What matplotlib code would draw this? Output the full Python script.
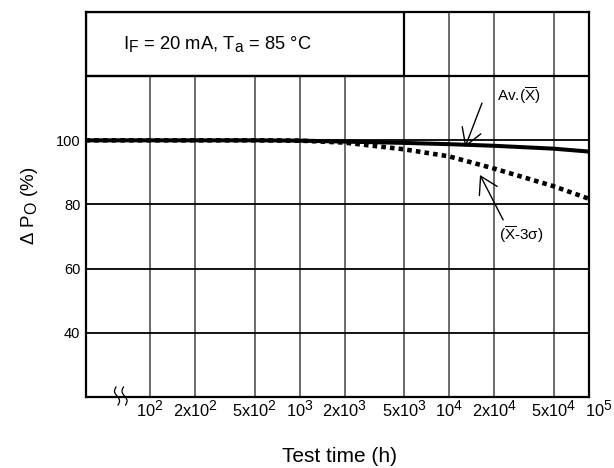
import numpy as np
import matplotlib
matplotlib.use("Agg")
import matplotlib.pyplot as plt
import matplotlib.patches as patches
import matplotlib._mathtext as mathtext_internal

plt.rcParams['font.family'] = ['Liberation Sans', 'DejaVu Sans']
plt.rcParams['mathtext.fontset'] = 'custom'
plt.rcParams['mathtext.rm'] = 'Liberation Sans'
plt.rcParams['mathtext.it'] = 'Liberation Sans:italic'
plt.rcParams['mathtext.bf'] = 'Liberation Sans:bold'
plt.rcParams['mathtext.default'] = 'regular'
# exponents and subscripts close to full size
mathtext_internal.SHRINK_FACTOR = 0.85

# test time (h) and relative optical power (%)
hours = [37, 100, 200, 500, 1000, 2000, 5000, 10000, 20000, 50000, 86000]
avg_po = [100, 100, 100, 100, 99.9, 99.6, 99.2, 98.8, 98.3, 97.4, 96.5]
low_po = [100, 100, 100, 100, 99.9, 99.3, 97.2, 95.0, 91.2, 85.7, 81.8]

x_ticks = [100, 200, 500, 1000, 2000, 5000, 10000, 20000, 50000, 100000]
x_labels = ['10$^{2}$', '2x10$^{2}$', '5x10$^{2}$', '10$^{3}$', '2x10$^{3}$',
            '5x10$^{3}$', '10$^{4}$', '2x10$^{4}$', '5x10$^{4}$', '10$^{5}$']
y_ticks = [40, 60, 80, 100]
x_min, x_max = 37.3, 86300
y_min, y_max = 20, 140

fig = plt.figure(figsize=(6.14, 4.68), dpi=100)
ax = fig.add_axes([0.1401, 0.1517, 0.8192, 0.8227])
ax.set_xscale('log')
ax.set_xlim(x_min, x_max)
ax.set_ylim(y_min, y_max)

# grid
for xv in x_ticks[:-1]:
    ax.axvline(xv, color='#444444', lw=1.1, zorder=1)
for yv in y_ticks:
    ax.axhline(yv, color='black', lw=1.3, zorder=1)
ax.axhline(120, color='black', lw=1.6, zorder=3)

# condition box in the upper-left corner
box = patches.Rectangle((x_min, 120), 5000 - x_min, 20, facecolor='white',
                        edgecolor='black', lw=1.6, zorder=2)
ax.add_patch(box)
ax.text(66, 130, 'I$_F$ = 20 mA, T$_a$ = 85 °C', fontsize=13.2,
        ha='left', va='center', zorder=4)

# curves
ax.plot(hours, avg_po, color='black', lw=2.9, zorder=5, solid_capstyle='butt')
ax.plot(hours, low_po, color='black', lw=3.3, linestyle=(0, (1.0, 0.9)), zorder=5)

# callouts
arrow = dict(arrowstyle='->,head_length=0.6,head_width=0.36', color='black',
             lw=1.0, mutation_scale=20, shrinkA=0, shrinkB=0)
ax.annotate('', xy=(12800, 97.9), xytext=(16600, 111.6), arrowprops=arrow, zorder=6)
ax.text(29400, 113.8, r'Av.($\overline{X}$)', fontsize=11, ha='center', va='center')
ax.annotate('', xy=(16100, 89.2), xytext=(23000, 75.2), arrowprops=arrow, zorder=6)
ax.text(30500, 70.5, r'($\overline{X}$-3σ)', fontsize=11, ha='center', va='center')

# axes frame and ticks
for sp in ax.spines.values():
    sp.set_linewidth(1.6)
    sp.set_zorder(7)
ax.set_xticks(x_ticks[:-1])
ax.xaxis.set_minor_locator(matplotlib.ticker.NullLocator())
ax.set_yticks(y_ticks)
ax.set_yticklabels([str(v) for v in y_ticks], fontsize=10.5)
ax.tick_params(axis='both', length=0)
ax.tick_params(axis='x', labelbottom=False)
ax.tick_params(axis='y', pad=4)

# time labels, the last decade sits past the frame
for t, lab in zip(x_ticks, x_labels):
    ax.annotate(lab, xy=(t, 0), xycoords=('data', 'axes fraction'),
                xytext=(0, -1.5), textcoords='offset points',
                ha='center', va='top', fontsize=11.8, annotation_clip=False)

# axis break marks
w_ax, h_ax = 503.0, 385.0
s = np.linspace(0, 1, 40)
for x0 in (116.0, 123.5):
    px = x0 - 2.0 * np.sin(2 * np.pi * s) + 2.0 * s
    py = 387.0 + 18.0 * s
    ax.plot((px - 86) / w_ax, (397 - py) / h_ax, color='black', lw=0.9,
            transform=ax.transAxes, clip_on=False, zorder=8)

fig.text(340 / 614, 1 - 456 / 468, 'Test time (h)', fontsize=15,
         ha='center', va='center')
fig.text(29 / 614, 1 - 206 / 468, 'Δ P$_O$ (%)', fontsize=13.5,
         rotation=90, ha='center', va='center')

fig.savefig('out.png', dpi=100, facecolor='white')
